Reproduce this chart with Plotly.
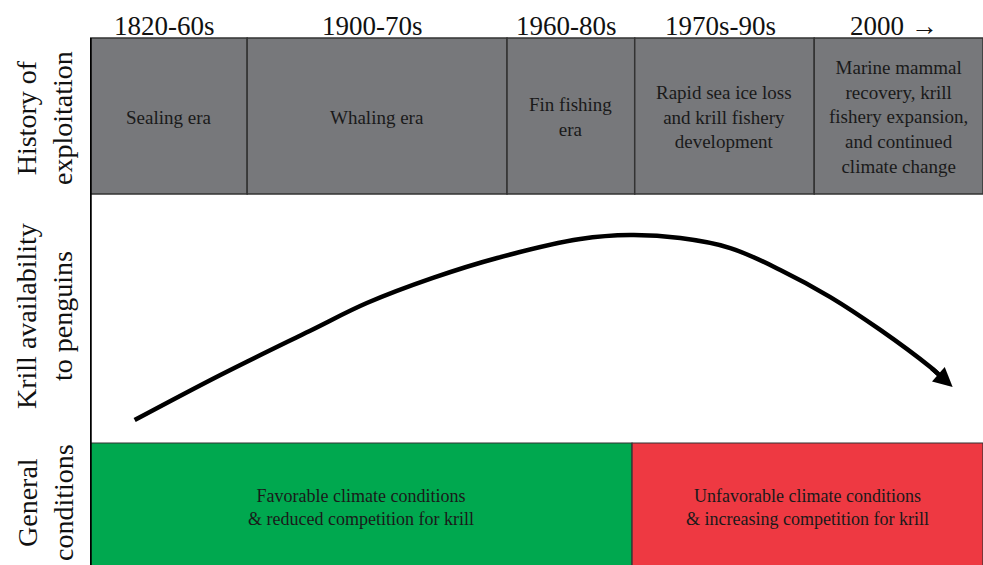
import plotly.graph_objects as go

# ---------------- data ----------------
period_labels = ["1820-60s", "1900-70s", "1960-80s", "1970s-90s", "2000 \u2192"]
era_labels = [
    "Sealing era",
    "Whaling era",
    "Fin fishing<br>era",
    "Rapid sea ice loss<br>and krill fishery<br>development",
    "Marine mammal<br>recovery, krill<br>fishery expansion,<br>and continued<br>climate change",
]
era_start = [0.0, 17.6, 46.7, 61.0, 81.1]
era_end = [17.6, 46.7, 61.0, 81.1, 100.0]

cond_labels = [
    "Favorable climate conditions<br>& reduced competition for krill",
    "Unfavorable climate conditions<br>& increasing competition for krill",
]
cond_start = [0.0, 60.7]
cond_end = [60.7, 100.0]
cond_colors = ["#00a84f", "#ee3942"]

row_labels = ["History of<br>exploitation", "Krill availability<br>to penguins", "General<br>conditions"]

# krill availability curve (timeline units 0-100, availability 0-100)
krill_x = [5.0, 14.6, 24.6, 31.0, 38.4, 45.6, 54.9, 60.5, 66.1, 71.7, 77.3, 82.9, 88.5, 94.1, 95.0]
krill_y = [9.2, 27.3, 45.0, 56.2, 66.3, 74.3, 81.9, 83.5, 82.3, 78.3, 69.5, 58.6, 45.4, 30.5, 27.7]
arrow_tip = (96.6, 22.5)

# ---------------- layout geometry ----------------
W, H = 983, 565
left_px = 90
top_px, row1_px, row2_px = 38, 194, 443
def py(px):
    return (H - px) / H

FONT = "Liberation Serif"
GREY = "#77787b"
EDGE = "#333333"

fig = go.Figure()

fig.add_trace(go.Scatter(
    x=krill_x, y=krill_y, mode="lines",
    line=dict(color="black", width=4.5, shape="spline", smoothing=1.0),
    xaxis="x", yaxis="y2", hoverinfo="skip", showlegend=False,
))

shapes = []
for s, e in zip(era_start, era_end):
    shapes.append(dict(type="rect", xref="x", yref="paper", x0=s, x1=e,
                       y0=py(row1_px), y1=py(top_px),
                       fillcolor=GREY, line=dict(color=EDGE, width=1.5), layer="below"))
for s, e, c in zip(cond_start, cond_end, cond_colors):
    shapes.append(dict(type="rect", xref="x", yref="paper", x0=s, x1=e,
                       y0=-0.01, y1=py(row2_px),
                       fillcolor=c, line=dict(color=EDGE, width=1.2), layer="below"))
shapes.append(dict(type="line", xref="x", yref="paper", x0=0, x1=0,
                   y0=0, y1=py(top_px), line=dict(color="black", width=3.5)))

def ann(**kw):
    d = dict(showarrow=False, xanchor="center", yanchor="middle")
    d.update(kw)
    return d

annotations = []
for s, e, t in zip(era_start, era_end, period_labels):
    annotations.append(ann(xref="x", yref="paper", x=(s + e) / 2 - 0.5, y=py(26), text=t,
                           font=dict(family=FONT, size=27, color="#111111")))
for s, e, t in zip(era_start, era_end, era_labels):
    annotations.append(ann(xref="x", yref="paper", x=(s + e) / 2, y=py(117), text=t,
                           font=dict(family=FONT, size=19, color="#1a1a1a")))
for s, e, t in zip(cond_start, cond_end, cond_labels):
    annotations.append(ann(xref="x", yref="paper", x=(s + e) / 2, y=py(507), text=t,
                           font=dict(family=FONT, size=18, color="#1a1a1a")))
for t, yc in zip(row_labels, [118, 316, 503]):
    annotations.append(ann(xref="paper", yref="paper", x=45 / W, y=py(yc), text=t,
                           textangle=-90,
                           font=dict(family=FONT, size=28, color="#111111")))
annotations.append(dict(xref="x", yref="y2", x=arrow_tip[0], y=arrow_tip[1],
                        axref="x", ayref="y2", ax=krill_x[-2], ay=krill_y[-2],
                        text="", showarrow=True, arrowhead=2, arrowsize=0.85,
                        arrowwidth=4.5, arrowcolor="black"))

fig.update_layout(
    width=W, height=H,
    margin=dict(l=0, r=0, t=0, b=0),
    paper_bgcolor="white", plot_bgcolor="rgba(0,0,0,0)",
    xaxis=dict(domain=[left_px / W, 1], range=[0, 100], visible=False, fixedrange=True),
    yaxis=dict(domain=[0, py(top_px)], range=[0, 100], visible=False, fixedrange=True),
    yaxis2=dict(domain=[py(row2_px), py(row1_px)], range=[0, 100], visible=False,
                fixedrange=True, anchor="x"),
    shapes=shapes, annotations=annotations, showlegend=False,
)

fig.write_html("out.html", config={"displayModeBar": False},
               post_script="document.body.style.margin='0';")
